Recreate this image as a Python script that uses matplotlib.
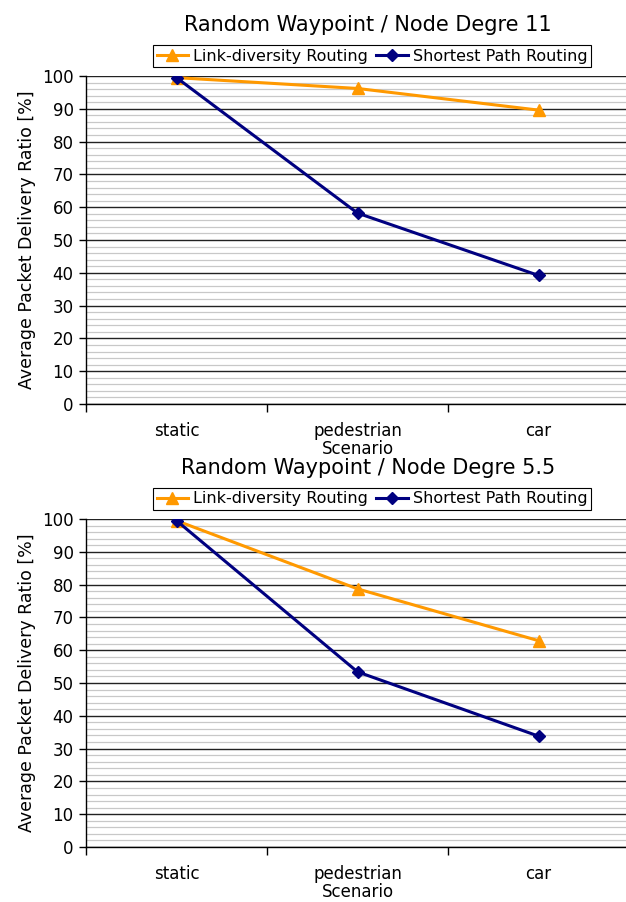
import matplotlib

matplotlib.use("Agg")
import matplotlib.pyplot as plt
from matplotlib.ticker import MultipleLocator

plt.rcParams["font.family"] = ["DejaVu Sans"]

SCENARIOS = ["static", "pedestrian", "car"]
LINK_DIV_11 = [99.5, 96.2, 89.6]
SHORTEST_11 = [99.5, 58.2, 39.2]
LINK_DIV_55 = [99.5, 78.7, 62.9]
SHORTEST_55 = [99.5, 53.4, 33.8]
TITLES = ["Random Waypoint / Node Degre 11", "Random Waypoint / Node Degre 5.5"]

ORANGE = "#FF9900"
NAVY = "#000080"

W, H = 626, 902
fig = plt.figure(figsize=(W / 100, H / 100), dpi=100)


def panel(top_px, bottom_px, title, link, shortest):
    ax = fig.add_axes([86 / W, 1 - bottom_px / H, (629 - 86) / W,
                       (bottom_px - top_px) / H])
    x = range(len(SCENARIOS))
    l1, = ax.plot(x, link, color=ORANGE, lw=2.2, marker="^", ms=9,
                  label="Link-diversity Routing", zorder=3)
    l2, = ax.plot(x, shortest, color=NAVY, lw=2.2, marker="D", ms=6.5,
                  label="Shortest Path Routing", zorder=4)
    ax.set_xlim(-0.5, len(SCENARIOS) - 0.5)
    ax.set_ylim(0, 100)
    ax.yaxis.set_major_locator(MultipleLocator(10))
    ax.yaxis.set_minor_locator(MultipleLocator(2))
    ax.grid(axis="y", which="minor", color="#c8c8c8", lw=0.9)
    ax.grid(axis="y", which="major", color="#222222", lw=1.0)
    ax.set_axisbelow(True)
    ax.tick_params(axis="y", which="major", length=5, width=1, labelsize=12,
                   direction="out", pad=4)
    ax.tick_params(axis="y", which="minor", length=0)
    # category boundaries carry the tick marks, names sit between them
    ax.set_xticks([i - 0.5 for i in range(len(SCENARIOS) + 1)])
    ax.set_xticklabels([])
    ax.set_xticks(list(x), minor=True)
    ax.set_xticklabels(SCENARIOS, minor=True, fontsize=12)
    ax.tick_params(axis="x", which="major", length=6, width=1, direction="out")
    ax.tick_params(axis="x", which="minor", length=0, pad=13)
    for s in ("top", "right"):
        ax.spines[s].set_visible(False)
    for s in ("left", "bottom"):
        ax.spines[s].set_color("black")
        ax.spines[s].set_linewidth(1.0)
    ax.set_xlabel("Scenario", fontsize=12, labelpad=0)
    ax.set_ylabel("Average Packet Delivery Ratio [%]", fontsize=12.5,
                  labelpad=4)
    fig.text(368 / W, 1 - (top_px - 51) / H, title, fontsize=15,
             ha="center", va="center")
    leg = fig.legend(handles=[l1, l2], loc="center",
                     bbox_to_anchor=(372 / W, 1 - (top_px - 20) / H),
                     ncol=2, fontsize=11.5, frameon=True, fancybox=False,
                     edgecolor="black", framealpha=1, borderpad=0.2,
                     handlelength=2.0, handletextpad=0.3, columnspacing=0.5,
                     borderaxespad=0)
    leg.get_frame().set_linewidth(0.8)
    return ax


panel(76, 404, TITLES[0], LINK_DIV_11, SHORTEST_11)
panel(519, 847, TITLES[1], LINK_DIV_55, SHORTEST_55)

fig.savefig("out.png", dpi=100)
